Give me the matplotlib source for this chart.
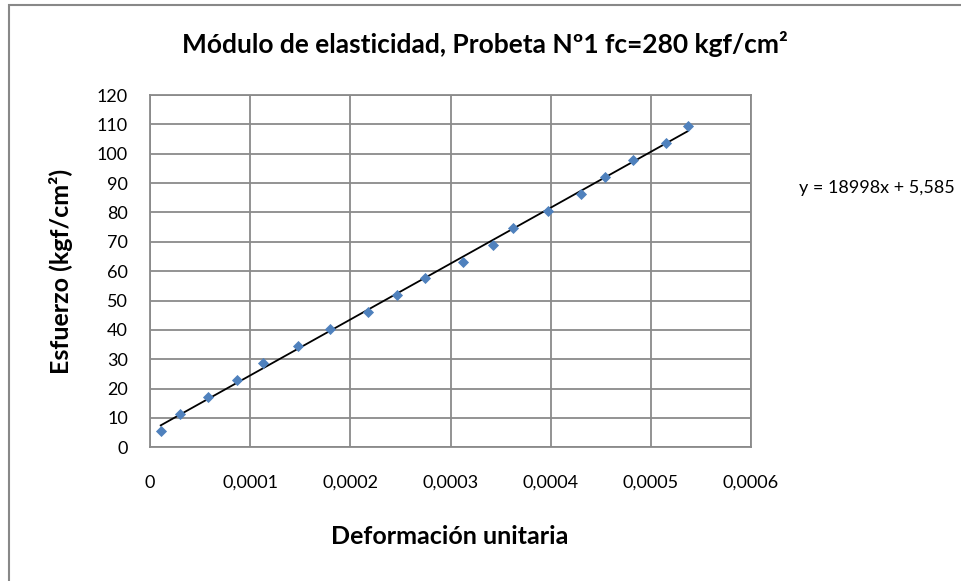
import numpy as np
import matplotlib
matplotlib.use('Agg')
import matplotlib.pyplot as plt
from matplotlib.patches import Rectangle

# data
deformacion = [1.07e-5, 3.03e-5, 5.76e-5, 8.71e-5, 1.128e-4, 1.477e-4, 1.80e-4,
               2.18e-4, 2.47e-4, 2.75e-4, 3.12e-4, 3.42e-4, 3.62e-4, 3.97e-4,
               4.30e-4, 4.54e-4, 4.82e-4, 5.15e-4, 5.37e-4]
esfuerzo = [5.65, 11.45, 17.1, 23.0, 28.7, 34.5, 40.3, 46.0, 51.8, 57.6, 63.2,
            69.0, 74.8, 80.6, 86.2, 92.1, 98.0, 103.6, 109.4]
x_ticks = [0, 0.0001, 0.0002, 0.0003, 0.0004, 0.0005, 0.0006]
x_labels = ['0', '0,0001', '0,0002', '0,0003', '0,0004', '0,0005', '0,0006']
y_ticks = list(range(0, 121, 10))
ecuacion = 'y = 18998x + 5,585'

plt.rcParams['font.family'] = ['Lato', 'DejaVu Sans']

W, H = 962, 581
fig = plt.figure(figsize=(W / 100, H / 100), dpi=100)
fig.patches.append(Rectangle((9 / W, -0.05), 1.2, (H - 5) / H + 0.05,
                             transform=fig.transFigure, fill=False,
                             edgecolor='#888888', linewidth=1.5))

ax = fig.add_axes([150 / W, (H - 447.3) / H, (751 - 150) / W, (447.3 - 95) / H])

x = np.array(deformacion)
y = np.array(esfuerzo)
m, b = np.polyfit(x, y, 1)
xl = np.array([x.min(), x.max()])
ax.plot(xl, m * xl + b, color='black', lw=1.3, zorder=3)
ax.scatter(x, y, marker='D', s=32, color='#4F81BD', zorder=4, linewidths=0)

ax.set_xlim(0, 0.0006)
ax.set_ylim(0, 120)
ax.set_xticks(x_ticks)
ax.set_xticklabels(x_labels)
ax.set_yticks(y_ticks)
ax.grid(True, color='#8a8a8a', lw=1.3)
ax.set_axisbelow(True)
for s in ax.spines.values():
    s.set_color('#8a8a8a')
    s.set_linewidth(1.3)
ax.tick_params(length=0, labelsize=13, colors='black')
ax.tick_params(axis='x', pad=20)
ax.tick_params(axis='y', pad=16)

fig.text(485 / W, (H - 44) / H,
         'Módulo de elasticidad, Probeta Nº1 fc=280 kgf/cm²',
         ha='center', va='center', fontsize=19, fontweight='bold')
fig.text(61 / W, (H - 271) / H, 'Esfuerzo (kgf/cm²)', rotation=90,
         ha='center', va='center', fontsize=18, fontweight='bold')
fig.text(450 / W, (H - 536) / H, 'Deformación unitaria',
         ha='center', va='center', fontsize=18, fontweight='bold')
fig.text(799 / W, (H - 188) / H, ecuacion, ha='left', va='center', fontsize=13)

fig.savefig('out.png', dpi=100)
